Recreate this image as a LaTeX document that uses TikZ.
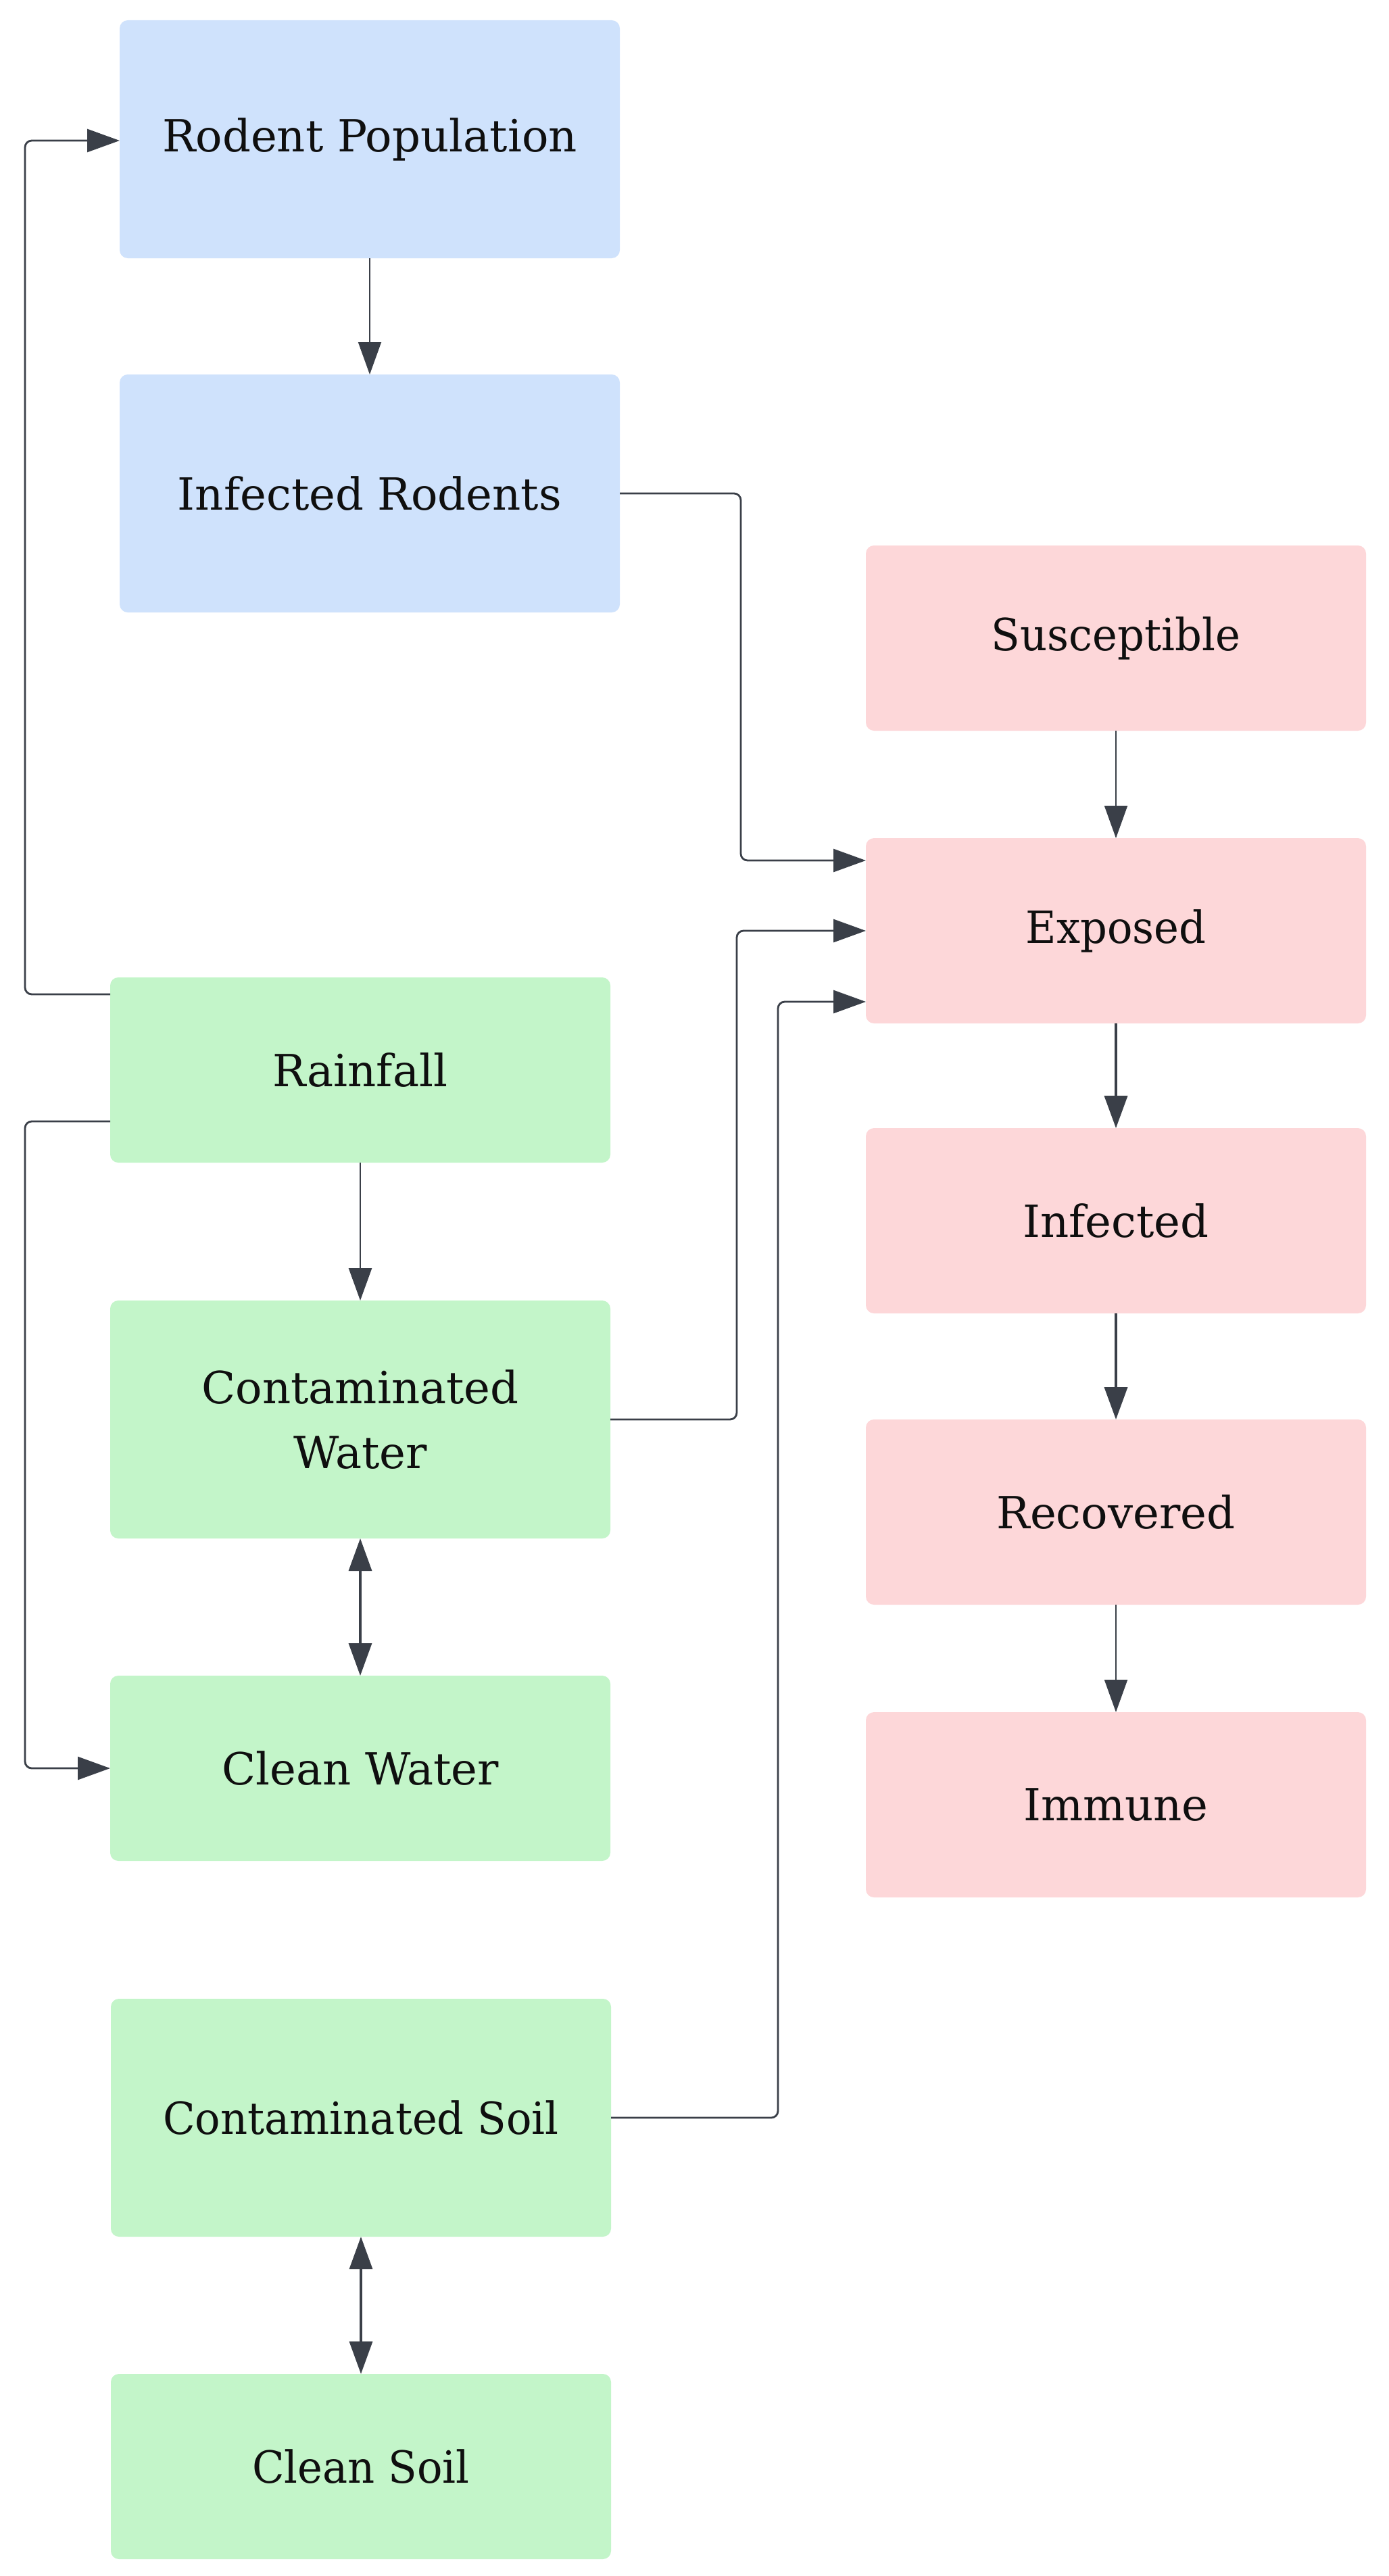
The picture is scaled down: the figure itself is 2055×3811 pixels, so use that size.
\documentclass[tikz,border=0pt]{standalone}
\usepackage{fontspec}
\usepackage{graphicx}
\setmainfont{DejaVu Serif}
\usetikzlibrary{arrows.meta}
\definecolor{bluebox}{RGB}{207,226,252}
\definecolor{greenbox}{RGB}{195,245,201}
\definecolor{redbox}{RGB}{253,215,217}
\definecolor{linecol}{RGB}{58,63,72}
\definecolor{txtcol}{RGB}{15,15,15}
\newcommand{\narrowtxt}[1]{\scalebox{0.95}[1]{#1}}
\tikzset{
  box/.style={rectangle, rounded corners=3pt, inner sep=0pt, outer sep=0pt,
    minimum width=185pt, text=txtcol, font=\fontsize{16.4}{24}\selectfont, align=center},
  tallbox/.style={box, minimum height=88pt},
  shortbox/.style={box, minimum height=68.5pt},
  conn/.style={draw=linecol, line width=0.7pt, rounded corners=2.5pt,
    -{Triangle[length=12pt,width=8.5pt]}},
  thinconn/.style={conn, line width=0.5pt},
  thickconn/.style={conn, line width=1pt},
  biconn/.style={draw=linecol, line width=0.8pt,
    {Triangle[length=12pt,width=8.5pt]}-{Triangle[length=12pt,width=8.5pt]}}
}
\begin{document}
\begin{tikzpicture}[x=0.25pt,y=-0.25pt]
\fill[white] (0,0) rectangle (2055,3811);
% blue
\node[tallbox, fill=bluebox] (rodpop) at (547,206) {Rodent Population};
\node[tallbox, fill=bluebox] (infrod) at (547,730) {Infected Rodents};
% green
\node[shortbox, fill=greenbox] (rain) at (533,1583) {Rainfall};
\node[tallbox, fill=greenbox] (contw) at (533,2100) {Contaminated\\Water};
\node[shortbox, fill=greenbox] (cleanw) at (533,2616) {Clean Water};
\node[tallbox, fill=greenbox] (conts) at (534,3133) {\narrowtxt{Contaminated Soil}};
\node[shortbox, fill=greenbox] (cleans) at (534,3649) {\narrowtxt{Clean Soil}};
% red
\node[shortbox, fill=redbox] (susc) at (1651,944) {\narrowtxt{Susceptible}};
\node[shortbox, fill=redbox] (expo) at (1651,1377) {\narrowtxt{Exposed}};
\node[shortbox, fill=redbox] (infd) at (1651,1806) {Infected};
\node[shortbox, fill=redbox] (reco) at (1651,2237) {Recovered};
\node[shortbox, fill=redbox] (immu) at (1651,2670) {Immune};
% connectors
\draw[thinconn] (rodpop) -- (infrod);
\draw[conn] (rain.west |- 0,1471) -- (37,1471) -- (37,208) -- (rodpop.west |- 0,208);
\draw[conn] (rain.west |- 0,1659) -- (37,1659) -- (37,2616) -- (cleanw.west);
\draw[conn] (rain) -- (contw);
\draw[biconn] (contw) -- (cleanw);
\draw[biconn] (conts) -- (cleans);
\draw[conn] (infrod.east) -- (1096,730) -- (1096,1273) -- (expo.west |- 0,1273);
\draw[conn] (contw.east) -- (1090,2100) -- (1090,1377) -- (expo.west);
\draw[conn] (conts.east) -- (1151,3133) -- (1151,1482) -- (expo.west |- 0,1482);
\draw[thinconn] (susc) -- (expo);
\draw[thickconn] (expo) -- (infd);
\draw[thickconn] (infd) -- (reco);
\draw[thinconn] (reco) -- (immu);
\end{tikzpicture}
\end{document}
